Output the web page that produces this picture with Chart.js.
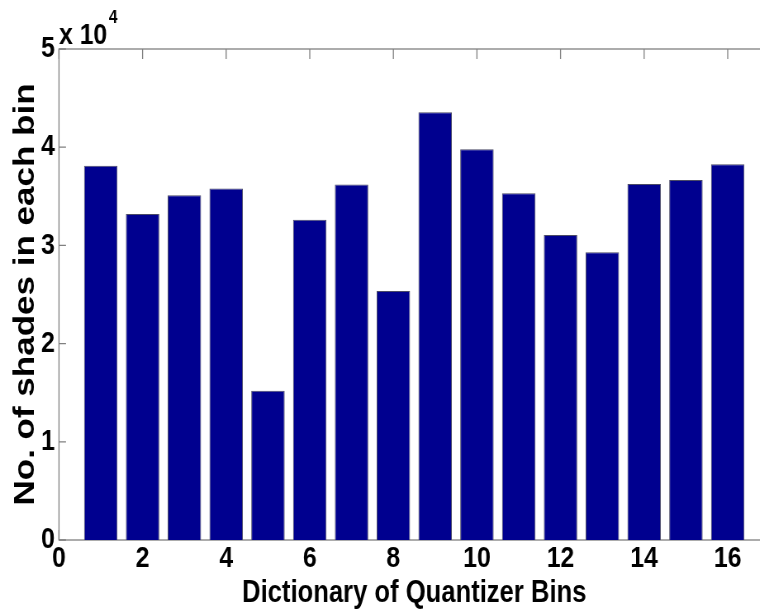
<!DOCTYPE html>
<html>
<head>
<meta charset="utf-8">
<script src="https://cdn.jsdelivr.net/npm/chart.js@4/dist/chart.umd.min.js"></script>
<style>
  html, body { margin: 0; padding: 0; background: #fff; overflow: hidden; width: 760px; height: 613px; }
  /* the figure is laid out wide and squeezed horizontally, giving the narrow bold lettering */
  #wrap { width: 940px; height: 613px; transform: scaleX(0.826); transform-origin: 0 0; }
</style>
</head>
<body>
<div id="wrap"><canvas id="c" width="940" height="613"></canvas></div>
<script>
// quantizer bins and the number of shades falling in each one
const bins = [1, 2, 3, 4, 5, 6, 7, 8, 9, 10, 11, 12, 13, 14, 15, 16];
const shadeCounts = [38100, 33200, 35100, 35800, 15200, 32600, 36200, 25350,
                     43550, 39800, 35300, 31060, 29300, 36250, 36660, 38260];

// axis ticks
const xTickValues = [0, 2, 4, 6, 8, 10, 12, 14, 16];
const yTickValues = [0, 10000, 20000, 30000, 40000, 50000];
const yExponent = 4;

const xTitle = 'Dictionary of Quantizer Bins';
const yTitle = 'No. of shades in each bin';

const FONT = "'Liberation Sans', Arial, Helvetica, sans-serif";
const AXIS = '#808080';

// box around the plot with inward ticks, plus the "x 10^4" multiplier
const axesBox = {
  id: 'axesBox',
  beforeDatasetsDraw(chart) {
    const { ctx, chartArea: a, scales: { x, y } } = chart;
    ctx.save();
    ctx.strokeStyle = AXIS;
    ctx.lineWidth = 1.3;
    ctx.strokeRect(a.left, a.top, a.right - a.left, a.bottom - a.top);
    ctx.beginPath();
    x.ticks.forEach(t => {
      const px = x.getPixelForValue(t.value);
      ctx.moveTo(px, a.top); ctx.lineTo(px, a.top + 10);
      ctx.moveTo(px, a.bottom); ctx.lineTo(px, a.bottom - 10);
    });
    y.ticks.forEach(t => {
      const py = y.getPixelForValue(t.value);
      ctx.moveTo(a.left, py); ctx.lineTo(a.left + 8.5, py);
      ctx.moveTo(a.right, py); ctx.lineTo(a.right - 8.5, py);
    });
    ctx.stroke();
    ctx.restore();
  },
  afterDraw(chart) {
    const { ctx, chartArea: a } = chart;
    ctx.save();
    ctx.fillStyle = '#000';
    ctx.textBaseline = 'alphabetic';
    ctx.textAlign = 'left';
    ctx.font = `bold 30px ${FONT}`;
    const base = 'x 10';
    ctx.fillText(base, a.left, a.top - 5);
    const w = ctx.measureText(base).width;
    ctx.font = `bold 19px ${FONT}`;
    ctx.fillText(String(yExponent), a.left + w + 2, a.top - 26);
    ctx.restore();
  }
};

new Chart(document.getElementById('c'), {
  type: 'bar',
  data: {
    datasets: [{
      data: bins.map((b, i) => ({ x: b, y: shadeCounts[i] })),
      backgroundColor: 'rgb(0,0,143)',
      borderColor: '#4a4a66',
      borderWidth: 1,
      barPercentage: 0.8,
      categoryPercentage: 1.0
    }]
  },
  options: {
    responsive: false,
    animation: false,
    devicePixelRatio: 1,
    layout: { padding: { left: 0, right: 8.4, top: 49, bottom: 0 } },
    plugins: { legend: { display: false }, tooltip: { enabled: false } },
    scales: {
      x: {
        type: 'linear',
        min: 0,
        max: 17,
        offset: false,
        grid: { display: false, drawTicks: false, offset: false },
        border: { display: false },
        afterBuildTicks: s => { s.ticks = xTickValues.map(v => ({ value: v })); },
        afterFit: s => { s.height = 73; },
        ticks: {
          font: { family: FONT, size: 30, weight: 'bold' },
          color: '#000',
          padding: 1,
          maxRotation: 0,
          autoSkip: false
        },
        title: {
          display: true,
          text: xTitle,
          font: { family: FONT, size: 31, weight: 'bold' },
          color: '#000',
          padding: { top: 0, bottom: 1 }
        }
      },
      y: {
        min: 0,
        max: 50000,
        grid: { display: false, drawTicks: false },
        border: { display: false },
        afterBuildTicks: s => { s.ticks = yTickValues.map(v => ({ value: v })); },
        afterFit: s => { s.width = 71.4; },
        ticks: {
          callback: v => v / Math.pow(10, yExponent),
          font: { family: FONT, size: 30, weight: 'bold' },
          color: '#000',
          padding: 5
        },
        title: {
          display: true,
          text: yTitle,
          font: { family: FONT, size: 35, weight: 'bold' },
          color: '#000',
          padding: { top: 10, bottom: 0 }
        }
      }
    }
  },
  plugins: [axesBox]
});
</script>
</body>
</html>
